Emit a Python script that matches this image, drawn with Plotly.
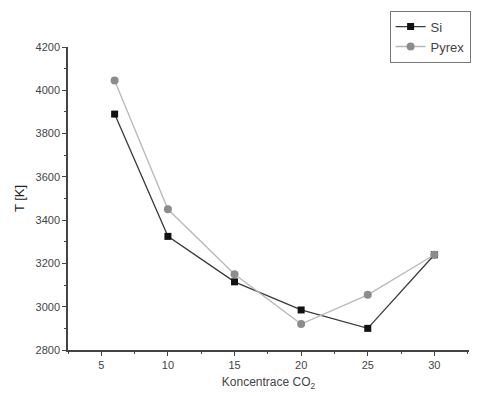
import plotly.graph_objects as go

conc = [6, 10, 15, 20, 25, 30]
si = [3890, 3325, 3115, 2985, 2900, 3240]
pyrex = [4045, 3450, 3150, 2920, 3055, 3240]

x_ticks = [5, 10, 15, 20, 25, 30]
y_ticks = [2800, 3000, 3200, 3400, 3600, 3800, 4000, 4200]

fig = go.Figure()
fig.add_trace(go.Scatter(x=conc, y=si, name="Si", mode="lines+markers",
                         line=dict(color="#3a3a3a", width=1.3),
                         marker=dict(symbol="square", size=7, color="#111111")))
fig.add_trace(go.Scatter(x=conc, y=pyrex, name="Pyrex", mode="lines+markers",
                         line=dict(color="#b8b8b8", width=1.3),
                         marker=dict(symbol="circle", size=8, color="#8c8c8c")))

fig.update_layout(
    width=477, height=396,
    margin=dict(l=68, r=7, t=47, b=46),
    paper_bgcolor="white", plot_bgcolor="white",
    font=dict(family="Liberation Sans, Arial", size=11, color="#444"),
    showlegend=True,
    legend=dict(x=0.80, y=1.12, xanchor="left", yanchor="top",
                bordercolor="#777", borderwidth=1, bgcolor="white",
                font=dict(size=13, color="#444"), tracegroupgap=0,
                itemwidth=30),
    xaxis=dict(range=[2.5, 32.6], tickvals=x_ticks, ticks="outside", ticklen=4,
               showline=True, linecolor="#444", linewidth=1.5, showgrid=False,
               zeroline=False, tickcolor="#444",
               minor=dict(dtick=2.5, tick0=2.5, ticks="outside", ticklen=2, tickcolor="#444"),
               title=dict(text="Koncentrace CO<sub>2</sub>", font=dict(size=12, color="#444"), standoff=8)),
    yaxis=dict(range=[2800, 4200], tickvals=y_ticks, ticks="outside", ticklen=4,
               showline=True, linecolor="#444", linewidth=1.5, showgrid=False,
               zeroline=False, tickcolor="#444",
               minor=dict(dtick=100, tick0=2800, ticks="outside", ticklen=2, tickcolor="#444"),
               title=dict(text="T [K]", font=dict(size=13, color="#222"), standoff=8)),
)
fig.write_html("out.html")
